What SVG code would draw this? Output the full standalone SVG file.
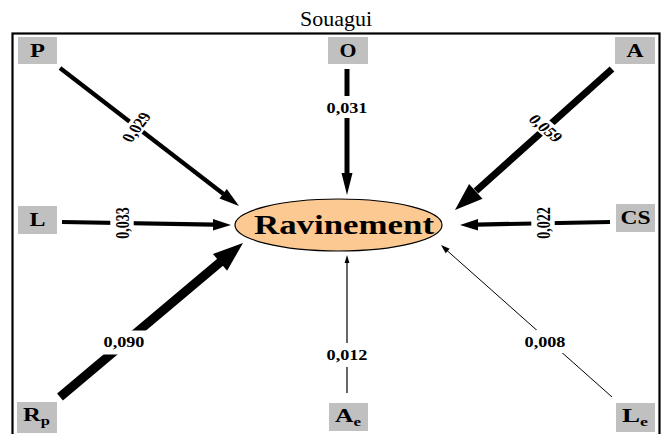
<svg xmlns="http://www.w3.org/2000/svg" width="663" height="434" viewBox="0 0 663 434">
  <style>
    .frame { fill: none; stroke: #000; stroke-width: 2.2; }
    .box { fill: #c0c0c0; stroke: none; }
    .node-text { font-family: "Liberation Serif", "Times New Roman", serif; font-weight: bold; font-size: 18px; fill: #000; }
    .sub { font-size: 12px; }
    .title { font-family: "Liberation Serif", "Times New Roman", serif; font-size: 22px; fill: #000; }
    .line { stroke: #000; fill: none; stroke-linecap: butt; }
    .head { fill: #000; stroke: none; }
    .lbl { font-family: "Liberation Serif", "Times New Roman", serif; font-weight: bold; font-size: 14px; fill: #000; }
    .lbl-bg { fill: #fff; }
  </style>

  <!-- title and outer frame -->
  <text class="title" x="336" y="26" text-anchor="middle" textLength="72" lengthAdjust="spacingAndGlyphs">Souagui</text>
  <rect class="frame" x="12.5" y="33.5" width="647" height="410"/>

  <!-- connectors: line, arrowhead, then label on a white patch -->
  <g id="connectors">
    <!-- P -> Ravinement -->
    <g id="edge-P">
      <line class="line" x1="60" y1="68" x2="223.5" y2="194" stroke-width="4.2"/>
      <polygon class="head" points="239,206 219.5,198.5 226.8,189"/>
      <g transform="translate(136,127) scale(1.3,1) rotate(-60)">
        <rect class="lbl-bg" x="-18" y="-7" width="36" height="14"/>
        <text class="lbl" x="0" y="5" text-anchor="middle">0,029</text>
      </g>
    </g>
    <!-- O -> Ravinement -->
    <g id="edge-O">
      <line class="line" x1="347" y1="69" x2="347" y2="174" stroke-width="5"/>
      <polygon class="head" points="347,195 341.5,173 352.5,173"/>
      <g transform="translate(347,108) scale(1.3,1)">
        <rect class="lbl-bg" x="-17" y="-12" width="34" height="22"/>
        <text class="lbl" x="0" y="5" text-anchor="middle">0,031</text>
      </g>
    </g>
    <!-- A -> Ravinement -->
    <g id="edge-A">
      <line class="line" x1="612" y1="69" x2="476" y2="191" stroke-width="7"/>
      <polygon class="head" points="455,210 482.5,198.7 469.1,183.9"/>
      <g transform="translate(546,128) scale(1.3,1) rotate(48)">
        <rect class="lbl-bg" x="-19" y="-7" width="38" height="14"/>
        <text class="lbl" x="0" y="5" text-anchor="middle">0,059</text>
      </g>
    </g>
    <!-- L -> Ravinement -->
    <g id="edge-L">
      <line class="line" x1="62" y1="222" x2="214" y2="224.6" stroke-width="4.2"/>
      <polygon class="head" points="231,225 213,219 213,230.5"/>
      <g transform="translate(122,223) scale(1.3,1) rotate(-90)">
        <rect class="lbl-bg" x="-19" y="-9" width="38" height="18"/>
        <text class="lbl" x="0" y="5" text-anchor="middle">0,033</text>
      </g>
    </g>
    <!-- CS -> Ravinement -->
    <g id="edge-CS">
      <line class="line" x1="610" y1="222" x2="477" y2="224.6" stroke-width="4.2"/>
      <polygon class="head" points="460,225 478,219 478,230.5"/>
      <g transform="translate(543,223) scale(1.3,1) rotate(-90)">
        <rect class="lbl-bg" x="-19" y="-9" width="38" height="18"/>
        <text class="lbl" x="0" y="5" text-anchor="middle">0,022</text>
      </g>
    </g>
    <!-- Rp -> Ravinement -->
    <g id="edge-Rp">
      <line class="line" x1="60" y1="397" x2="221" y2="261.5" stroke-width="9"/>
      <polygon class="head" points="243,243 227.1,270.7 212.9,253.9"/>
      <g transform="translate(124,342) scale(1.3,1)">
        <rect class="lbl-bg" x="-19" y="-11.5" width="38" height="24"/>
        <text class="lbl" x="0" y="5" text-anchor="middle">0,090</text>
      </g>
    </g>
    <!-- Ae -> Ravinement -->
    <g id="edge-Ae">
      <line class="line" x1="347" y1="393" x2="347" y2="262" stroke-width="1.2" stroke="#333"/>
      <polygon class="head" points="347,255 344.6,263 349.4,263"/>
      <g transform="translate(347,355) scale(1.3,1)">
        <rect class="lbl-bg" x="-17" y="-12" width="34" height="24"/>
        <text class="lbl" x="0" y="5" text-anchor="middle">0,012</text>
      </g>
    </g>
    <!-- Le -> Ravinement -->
    <g id="edge-Le">
      <line class="line" x1="612" y1="397" x2="447" y2="250.5" stroke-width="1"/>
      <polygon class="head" points="441,245 449.7,248.8 445.7,253.2"/>
      <g transform="translate(545,342) scale(1.3,1)">
        <rect class="lbl-bg" x="-16" y="-12" width="32" height="23"/>
        <text class="lbl" x="0" y="5" text-anchor="middle">0,008</text>
      </g>
    </g>
  </g>

  <!-- central node -->
  <g id="node-ravinement">
    <ellipse cx="338.5" cy="225" rx="103.5" ry="26" fill="#fdc992" stroke="#000" stroke-width="1.2"/>
    <text x="344" y="234" text-anchor="middle" font-family="Liberation Serif, Times New Roman, serif" font-weight="bold" font-size="27" textLength="180" lengthAdjust="spacingAndGlyphs">Ravinement</text>
  </g>

  <!-- factor nodes -->
  <g id="node-P">
    <rect class="box" x="18" y="37" width="39" height="27"/>
    <text class="node-text" x="37.5" y="57" text-anchor="middle" textLength="15" lengthAdjust="spacingAndGlyphs">P</text>
  </g>
  <g id="node-O">
    <rect class="box" x="328" y="37" width="40" height="27"/>
    <text class="node-text" x="348" y="57" text-anchor="middle" textLength="17" lengthAdjust="spacingAndGlyphs">O</text>
  </g>
  <g id="node-A">
    <rect class="box" x="615" y="37" width="40" height="27"/>
    <text class="node-text" x="635" y="57" text-anchor="middle" textLength="17" lengthAdjust="spacingAndGlyphs">A</text>
  </g>
  <g id="node-L">
    <rect class="box" x="18" y="206" width="39" height="28"/>
    <text class="node-text" x="37.5" y="226" text-anchor="middle" textLength="16" lengthAdjust="spacingAndGlyphs">L</text>
  </g>
  <g id="node-CS">
    <rect class="box" x="616" y="204" width="39" height="28"/>
    <text class="node-text" x="635.5" y="224" text-anchor="middle" textLength="30" lengthAdjust="spacingAndGlyphs">CS</text>
  </g>
  <g id="node-Rp">
    <rect class="box" x="17" y="402" width="40" height="31"/>
    <text class="node-text" x="23" y="421" textLength="27" lengthAdjust="spacingAndGlyphs">R<tspan class="sub" dy="4">p</tspan></text>
  </g>
  <g id="node-Ae">
    <rect class="box" x="329" y="403" width="39" height="28"/>
    <text class="node-text" x="335" y="422" textLength="26" lengthAdjust="spacingAndGlyphs">A<tspan class="sub" dy="4">e</tspan></text>
  </g>
  <g id="node-Le">
    <rect class="box" x="616" y="403" width="39" height="29"/>
    <text class="node-text" x="622" y="422" textLength="26" lengthAdjust="spacingAndGlyphs">L<tspan class="sub" dy="4">e</tspan></text>
  </g>
</svg>
